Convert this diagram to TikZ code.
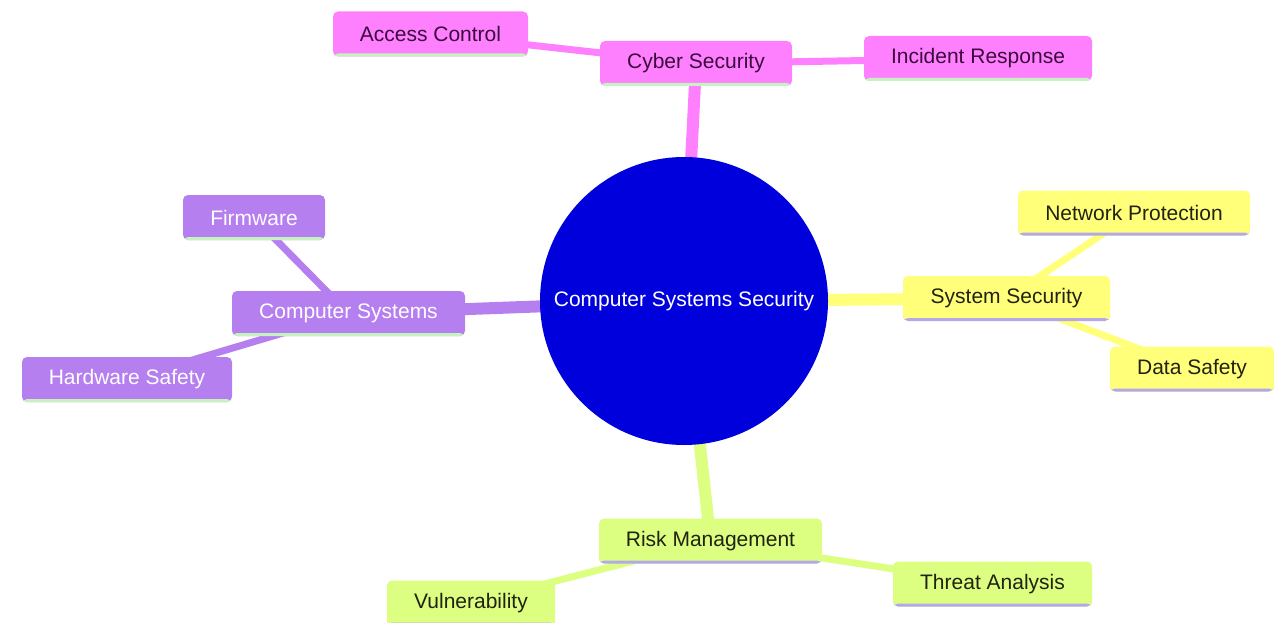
\documentclass[tikz,border=0pt]{standalone}
\usepackage{fontspec}
\setmainfont{Liberation Sans}
\usetikzlibrary{backgrounds}

\definecolor{rootblue}{HTML}{0000DD}
\definecolor{cyberpink}{HTML}{FF80FF}
\definecolor{comppurple}{HTML}{B57FF0}
\definecolor{sysyellow}{HTML}{FFFF7A}
\definecolor{riskgreen}{HTML}{DCFF82}
\definecolor{lavline}{HTML}{B4A8EA}
\definecolor{greenline}{HTML}{C6F2C0}
\definecolor{pinktext}{HTML}{3C0A3C}
\definecolor{darktext}{HTML}{222211}

\begin{document}
\begin{tikzpicture}[x=1pt, y=-1pt,
		mmfont/.style={font=\fontsize{21}{25}\selectfont},
		underline/.style={path picture={\fill[#1] (path picture bounding box.south west) rectangle ([yshift=3pt]path picture bounding box.south east);}},
		mmbox/.style={mmfont, rectangle, rounded corners=5pt, inner sep=0pt, minimum height=45pt},
		cyberbox/.style={mmbox, fill=cyberpink, text=pinktext, underline=greenline},
		compbox/.style={mmbox, fill=comppurple, text=white, underline=greenline},
		sysbox/.style={mmbox, fill=sysyellow, text=darktext, underline=lavline},
		riskbox/.style={mmbox, fill=riskgreen, text=darktext, underline=lavline},
		rootnode/.style={mmfont, circle, fill=rootblue, text=white, minimum size=288pt, inner sep=0pt},
		mainedge/.style={line width=12pt},
		subedge/.style={line width=7pt}]
			\useasboundingbox (0,0) rectangle (1274,623);

			% root
			\node[rootnode] (root) at (684,301) {Computer Systems Security};

			% cyber security branch
			\node[cyberbox, minimum width=192pt] (cyber)    at (696,63.5)  {Cyber Security};
			\node[cyberbox, minimum width=195pt] (access)   at (430.5,34)  {Access Control};
			\node[cyberbox, minimum width=228pt] (incident) at (978,58.5)  {Incident Response};

			% computer systems branch
			\node[compbox, minimum width=233pt] (compsys)  at (348.5,313.5) {Computer Systems};
			\node[compbox, minimum width=142pt] (firmware) at (254,217.5)   {Firmware};
			\node[compbox, minimum width=210pt] (hardware) at (127,379.5)   {Hardware Safety};

			% system security branch
			\node[sysbox, minimum width=207pt] (syssec)   at (1006.5,298.5) {System Security};
			\node[sysbox, minimum width=232pt] (netprot)  at (1134,213)     {Network Protection};
			\node[sysbox, minimum width=164pt] (datasafe) at (1192,369)     {Data Safety};

			% risk management branch
			\node[riskbox, minimum width=223pt] (risk)   at (710.5,541) {Risk Management};
			\node[riskbox, minimum width=199pt] (threat) at (992.5,584) {Threat Analysis};
			\node[riskbox, minimum width=168pt] (vuln)   at (471,603)   {Vulnerability};

			% edges
			\begin{scope}[on background layer]
				\draw[mainedge, cyberpink]	(root.center) -- (cyber.center);
				\draw[subedge, cyberpink]	(cyber.center) -- (access.center)
											(cyber.center) -- (incident.center);

				\draw[mainedge, comppurple]	(root.center) -- (compsys.center);
				\draw[subedge, comppurple]	(compsys.center) -- (firmware.center)
											(compsys.center) -- (hardware.center);

				\draw[mainedge, sysyellow]	(root.center) -- (syssec.center);
				\draw[subedge, sysyellow]	(syssec.center) -- (netprot.center)
											(syssec.center) -- (datasafe.center);

				\draw[mainedge, riskgreen]	(root.center) -- (risk.center);
				\draw[subedge, riskgreen]	(risk.center) -- (threat.center)
											(risk.center) -- (vuln.center);
			\end{scope}
		\end{tikzpicture}
\end{document}
